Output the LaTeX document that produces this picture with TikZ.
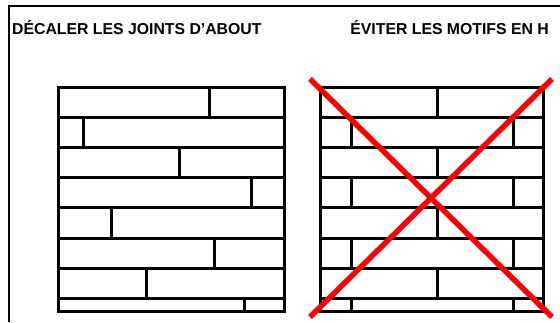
\documentclass[tikz,border=0pt]{standalone}
\usepackage{fontspec}
\setmainfont{Liberation Sans}

\begin{document}
\begin{tikzpicture}[x=1pt, y=-1pt,
		brick/.style={line width=3pt, black, line cap=rect},
		cross/.style={line width=5.5pt, red},
		title/.style={font=\bfseries\fontsize{15.8}{18}\selectfont, inner sep=0pt}]

		\useasboundingbox (0,0) rectangle (560,322);

		\def\ytop{87} \def\ybot{311} \def\rowh{30.2}
		\def\lL{58} \def\lR{284} % left wall
		\def\rL{320} \def\rR{543} % right wall

		% Frame
		\draw[line width=2pt] (9,322) -- (9,6) -- (560,6);

		% Titles
		\node[title, anchor=base west] (titleL) at (12,34) {DÉCALER LES JOINTS D’ABOUT};
		\node[title, anchor=base east] (titleR) at (549,34) {ÉVITER LES MOTIFS EN H};

		% Bed joints
		\foreach \k in {1,...,7} {
			\pgfmathsetmacro{\yk}{\ytop + \k * \rowh}
			\draw[brick] (\lL,\yk) -- (\lR,\yk);
			\draw[brick] (\rL,\yk) -- (\rR,\yk);
		}

		% Butt joints, staggered
		\foreach \x [count=\k from 0] in {209,83,179,251,111,214,146,244} {
			\pgfmathsetmacro{\ya}{\ytop + \k * \rowh}
			\pgfmathsetmacro{\yb}{min(\ya + \rowh, \ybot)}
			\draw[brick] (\x,\ya) -- (\x,\yb);
		}

		% Butt joints, H pattern
		\foreach \k in {0,...,7} {
			\pgfmathsetmacro{\ya}{\ytop + \k * \rowh}
			\pgfmathsetmacro{\yb}{min(\ya + \rowh, \ybot)}
			\ifodd\k\relax
				\draw[brick] (351,\ya) -- (351,\yb);
				\draw[brick] (513,\ya) -- (513,\yb);
			\else
				\draw[brick] (437,\ya) -- (437,\yb);
			\fi
		}

		% Outlines
		\draw[brick] (\lL,\ytop) rectangle (\lR,\ybot);
		\draw[brick] (\rL,\ytop) rectangle (\rR,\ybot);

		% Red cross
		\draw[cross] (310,79) -- (552,317);
		\draw[cross] (552,79) -- (310,317);

	\end{tikzpicture}
\end{document}
